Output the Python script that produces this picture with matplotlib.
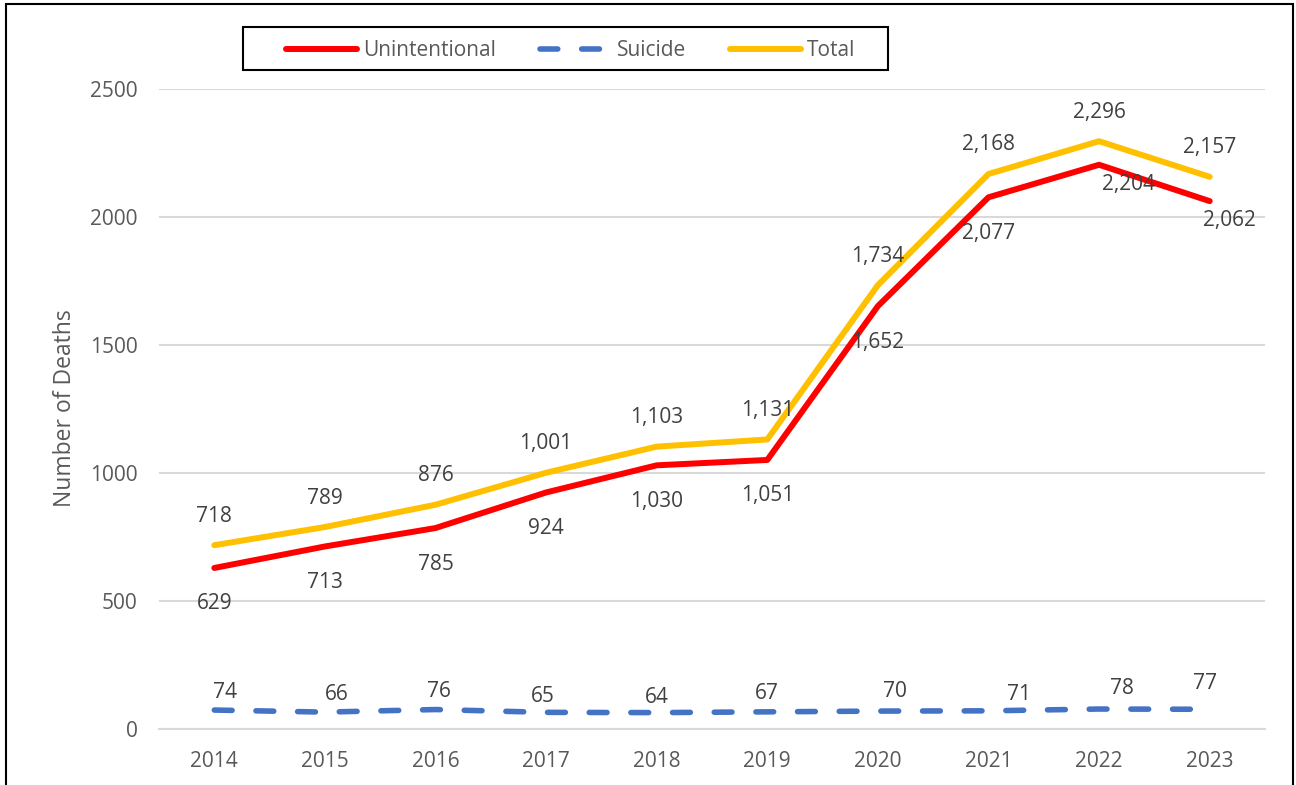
import matplotlib
matplotlib.use("Agg")
import matplotlib.pyplot as plt
from matplotlib.patches import Rectangle

years = ["2014", "2015", "2016", "2017", "2018", "2019", "2020", "2021", "2022", "2023"]
unintentional = [629, 713, 785, 924, 1030, 1051, 1652, 2077, 2204, 2062]
suicide = [74, 66, 76, 65, 64, 67, 70, 71, 78, 77]
total = [718, 789, 876, 1001, 1103, 1131, 1734, 2168, 2296, 2157]
yticks = [0, 500, 1000, 1500, 2000, 2500]

# label offsets in pixels (dx, dy), style only
off_total = [(0, 29)] * 10
off_unint = [(0, -36)] * 8 + [(29, -20), (20, -19)]
off_sui = [(11, 18), (12, 18), (3, 18), (-3, 16), (0, 15), (0, 18), (17, 20), (31, 16), (23, 21), (-5, 26)]

plt.rcParams['font.family'] = ['Open Sans', 'DejaVu Sans']
FS = 15
TXT = '#404040'
TICK = '#595959'

fig = plt.figure(figsize=(12.96, 7.85), dpi=100)
ax = fig.add_axes([159/1296, 1-729/785, (1265-159)/1296, (729-89)/785])
x = list(range(len(years)))

l_u, = ax.plot(x, unintentional, color='#FF0000', lw=4.3, solid_capstyle='round', solid_joinstyle='round', label='Unintentional', zorder=3)
l_s, = ax.plot(x, suicide, color='#4472C4', lw=4.0, dashes=(3.2, 4.3), dash_capstyle='round', label='Suicide', zorder=3)
l_t, = ax.plot(x, total, color='#FFC000', lw=4.3, solid_capstyle='round', solid_joinstyle='round', label='Total', zorder=3)

def lab(vals, offs):
    for i, (v, o) in enumerate(zip(vals, offs)):
        ax.annotate(f"{v:,}", (i, v), xytext=o, textcoords='offset pixels',
                    ha='center', va='center', fontsize=FS, color=TXT, zorder=4)

lab(total, off_total)
lab(unintentional, off_unint)
lab(suicide, off_sui)

ax.set_xlim(-0.5, len(years) - 0.5)
ax.set_ylim(0, 2500)
ax.set_yticks(yticks)
ax.set_yticklabels([str(t) for t in yticks])
ax.set_xticks(x)
ax.set_xticklabels(years)
ax.tick_params(axis='both', length=0, labelsize=FS, labelcolor=TICK)
ax.tick_params(axis='y', pad=15.5)
ax.tick_params(axis='x', pad=15.5)
ax.grid(axis='y', color='#D9D9D9', lw=1.5, zorder=0)
ax.set_axisbelow(True)
for s in ['top', 'right', 'left']:
    ax.spines[s].set_visible(False)
ax.spines['bottom'].set_color('#D9D9D9')
ax.spines['bottom'].set_linewidth(1.5)
ax.set_ylabel('Number of Deaths', fontsize=16.5, color=TICK)
ax.yaxis.set_label_coords(77/1296, 1-408/785, transform=fig.transFigure)

leg = fig.legend(handles=[l_u, l_s, l_t], loc='center', bbox_to_anchor=(571/1296, 1-50.5/785),
                 ncol=3, fontsize=FS, frameon=False, handlelength=3.4,
                 handletextpad=0.3, columnspacing=2.1, borderpad=0.3)
for t in leg.get_texts():
    t.set_color(TICK)

fig.patches.append(Rectangle((243/1296, 1-70/785), (888-243)/1296, 43/785, transform=fig.transFigure,
                             fill=False, edgecolor='black', lw=1.5))
fig.patches.append(Rectangle((6/1296, -0.05), (1293-6)/1296, 1-4/785+0.05, transform=fig.transFigure,
                             fill=False, edgecolor='black', lw=1.5))

fig.savefig('out.png', dpi=100)
